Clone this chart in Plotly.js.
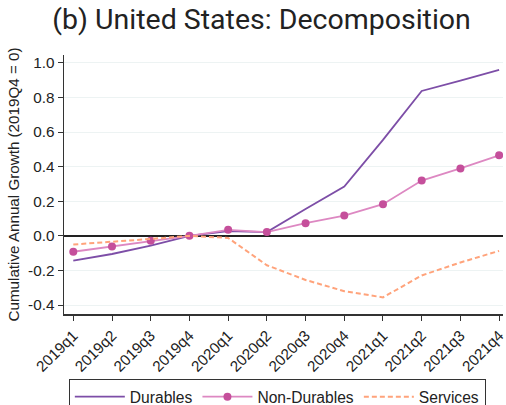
<!DOCTYPE html>
<html>
<head>
<meta charset="utf-8">
<script src="https://cdn.plot.ly/plotly-3.0.1.min.js"></script>
<style>html,body{margin:0;padding:0;background:#fff;}#chart{width:506px;height:405px;}</style>
</head>
<body>
<div id="chart"></div>
<script>
const quarters = ["2019q1","2019q2","2019q3","2019q4","2020q1","2020q2","2020q3","2020q4","2021q1","2021q2","2021q3","2021q4"];
const durables = [-0.143,-0.105,-0.057,0.0,0.027,0.022,0.155,0.285,0.555,0.838,0.898,0.96];
const nonDurables = [-0.092,-0.062,-0.029,0.0,0.035,0.022,0.073,0.117,0.183,0.32,0.39,0.466];
const services = [-0.05,-0.035,-0.018,0.0,-0.012,-0.17,-0.255,-0.32,-0.356,-0.229,-0.154,-0.087];
const yTicks = [-0.4,-0.2,0.0,0.2,0.4,0.6,0.8,1.0];
const yTickText = ["-0.4","-0.2","0.0","0.2","0.4","0.6","0.8","1.0"];

const traces = [
  {x: quarters, y: durables, name: "Durables", type: "scatter", mode: "lines",
   line: {color: "#7d4ea7", width: 1.8}},
  {x: quarters, y: nonDurables, name: "Non-Durables", type: "scatter", mode: "lines+markers",
   line: {color: "#dd88c2", width: 1.8}, marker: {color: "#c54f9b", size: 8}},
  {x: quarters, y: services, name: "Services", type: "scatter", mode: "lines",
   line: {color: "#ffa37b", width: 2, dash: "5px,3px"}}
];

const layout = {
  width: 506, height: 405,
  margin: {l: 64, r: 3, t: 55, b: 91, autoexpand: false},
  paper_bgcolor: "#fff", plot_bgcolor: "#fff",
  font: {family: "'Liberation Sans', Arial, sans-serif", color: "#222", size: 15.5},
  title: {text: "(b) United States: Decomposition", x: 0.517, xanchor: "center", y: 0.978, yanchor: "top",
          font: {family: "Roboto, sans-serif", size: 28.5, color: "#222"}},
  showlegend: true,
  legend: {orientation: "h", x: 0.011, xanchor: "left", y: -0.251, yanchor: "top",
           bordercolor: "#333", borderwidth: 1, font: {size: 15.6}, traceorder: "normal",
           itemwidth: 50, tracegroupgap: 0},
  xaxis: {type: "category", range: [-0.24, 11.1], tickangle: -45, showgrid: false,
          showline: true, linecolor: "#333", linewidth: 1.5, ticks: "outside", ticklen: 5,
          tickcolor: "#333", tickfont: {size: 15.3}, zeroline: false, automargin: false},
  yaxis: {range: [-0.452, 1.046], tickvals: yTicks, ticktext: yTickText,
          showgrid: true, gridcolor: "#edf3f3", gridwidth: 1,
          zeroline: true, zerolinecolor: "#222", zerolinewidth: 2,
          showline: true, linecolor: "#333", linewidth: 1.5, ticks: "outside", ticklen: 5,
          tickcolor: "#333", tickfont: {size: 15.3}, automargin: false,
          title: {text: "Cumulative Annual Growth (2019Q4 = 0)", font: {size: 15.2}, standoff: 5}}
};

Plotly.newPlot("chart", traces, layout, {displayModeBar: false, staticPlot: true});
</script>
</body>
</html>
